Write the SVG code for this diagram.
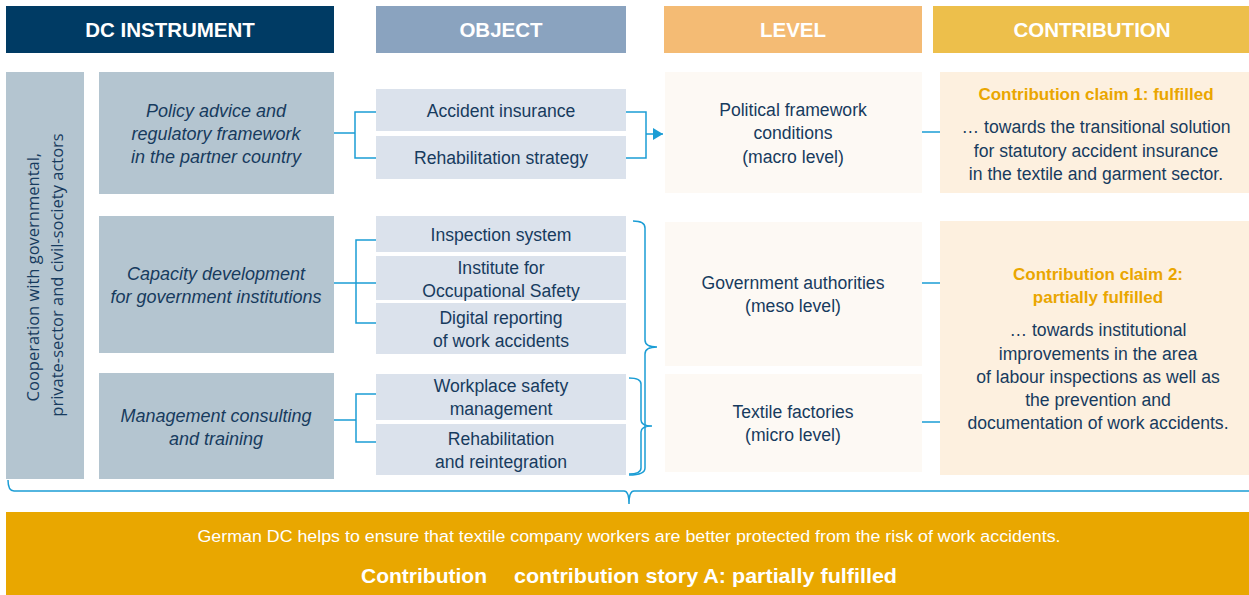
<svg xmlns="http://www.w3.org/2000/svg" width="1249" height="595" viewBox="0 0 1249 595">
<defs>
<style>
.t{font-family:"Liberation Sans",Arial,sans-serif;font-size:17.6px;fill:#173b5e;text-anchor:middle}
.i{font-style:italic;font-size:18px}
.h{font-family:"Liberation Sans",Arial,sans-serif;font-size:20.5px;font-weight:bold;fill:#fff;text-anchor:middle}
.c{font-family:"Liberation Sans",Arial,sans-serif;font-size:17px;font-weight:bold;fill:#eaa600;text-anchor:middle}
.ins{fill:#b4c5d0}
.obj{fill:#dbe2ec}
.lvl{fill:#fdf9f4}
.con{fill:#fdf0df}
.ln{fill:none;stroke:#1b9dd5;stroke-width:1.5}
</style>
<marker id="arr" markerWidth="10" markerHeight="12" refX="10" refY="6" orient="auto" markerUnits="userSpaceOnUse">
<path d="M0,0 L10,6 L0,12 Z" fill="#1b9dd5"/>
</marker>
</defs>
<rect width="1249" height="595" fill="#fff"/>

<g id="headers">
<rect x="6" y="6" width="328" height="47" fill="#003b64"/>
<text class="h" x="170" y="37">DC INSTRUMENT</text>
<rect x="376" y="6" width="250" height="47" fill="#8aa3bf"/>
<text class="h" x="501" y="37">OBJECT</text>
<rect x="664" y="6" width="258" height="47" fill="#f4bb74"/>
<text class="h" x="793" y="37">LEVEL</text>
<rect x="933" y="6" width="316" height="47" fill="#edbf4b"/>
<text class="h" x="1092" y="37">CONTRIBUTION</text>
</g>

<g id="cooperation">
<rect class="ins" x="6" y="72" width="78" height="407"/>
<text transform="translate(45,275) rotate(-90)" style="font-family:'Open Sans','Liberation Sans',sans-serif;font-size:16.5px;fill:#173b5e;text-anchor:middle">
<tspan x="0" y="-6">Cooperation with governmental,</tspan>
<tspan x="0" y="18">private-sector and civil-society actors</tspan>
</text>
</g>

<g id="instr-policy">
<rect class="ins" x="99" y="72" width="235" height="122"/>
<text class="t i" x="216" y="117">Policy advice and</text>
<text class="t i" x="216" y="140">regulatory framework</text>
<text class="t i" x="216" y="163">in the partner country</text>
</g>
<g id="instr-capacity">
<rect class="ins" x="99" y="216" width="235" height="137"/>
<text class="t i" x="216" y="280">Capacity development</text>
<text class="t i" x="216" y="303">for government institutions</text>
</g>
<g id="instr-management">
<rect class="ins" x="99" y="373" width="235" height="106"/>
<text class="t i" x="216" y="422">Management consulting</text>
<text class="t i" x="216" y="445">and training</text>
</g>

<g id="obj-accident">
<rect class="obj" x="376" y="89" width="250" height="42"/>
<text class="t" x="501" y="117">Accident insurance</text>
</g>
<g id="obj-rehabstrategy">
<rect class="obj" x="376" y="136" width="250" height="43"/>
<text class="t" x="501" y="164">Rehabilitation strategy</text>
</g>
<g id="obj-inspection">
<rect class="obj" x="376" y="216" width="250" height="36"/>
<text class="t" x="501" y="241">Inspection system</text>
</g>
<g id="obj-institute">
<rect class="obj" x="376" y="256" width="250" height="44"/>
<text class="t" x="501" y="274">Institute for</text>
<text class="t" x="501" y="297">Occupational Safety</text>
</g>
<g id="obj-digital">
<rect class="obj" x="376" y="303" width="250" height="51"/>
<text class="t" x="501" y="324">Digital reporting</text>
<text class="t" x="501" y="347">of work accidents</text>
</g>
<g id="obj-workplace">
<rect class="obj" x="376" y="374" width="250" height="46"/>
<text class="t" x="501" y="392">Workplace safety</text>
<text class="t" x="501" y="415">management</text>
</g>
<g id="obj-rehab">
<rect class="obj" x="376" y="424" width="250" height="51"/>
<text class="t" x="501" y="445">Rehabilitation</text>
<text class="t" x="501" y="468">and reintegration</text>
</g>

<g id="lvl-macro">
<rect class="lvl" x="665" y="72" width="257" height="121"/>
<text class="t" x="793" y="116">Political framework</text>
<text class="t" x="793" y="139">conditions</text>
<text class="t" x="793" y="163">(macro level)</text>
</g>
<g id="lvl-meso">
<rect class="lvl" x="665" y="222" width="257" height="144"/>
<text class="t" x="793" y="289">Government authorities</text>
<text class="t" x="793" y="312">(meso level)</text>
</g>
<g id="lvl-micro">
<rect class="lvl" x="665" y="374" width="257" height="98"/>
<text class="t" x="793" y="418">Textile factories</text>
<text class="t" x="793" y="441">(micro level)</text>
</g>

<g id="claim1">
<rect class="con" x="940" y="72" width="309" height="121"/>
<text class="c" x="1096" y="100">Contribution claim 1: fulfilled</text>
<text class="t" x="1096" y="133">… towards the transitional solution</text>
<text class="t" x="1096" y="157">for statutory accident insurance</text>
<text class="t" x="1096" y="180">in the textile and garment sector.</text>
</g>
<g id="claim2">
<rect class="con" x="940" y="221" width="309" height="254"/>
<text class="c" x="1098" y="280">Contribution claim 2:</text>
<text class="c" x="1098" y="303">partially fulfilled</text>
<text class="t" x="1098" y="336">… towards institutional</text>
<text class="t" x="1098" y="360">improvements in the area</text>
<text class="t" x="1098" y="383">of labour inspections as well as</text>
<text class="t" x="1098" y="406">the prevention and</text>
<text class="t" x="1098" y="429">documentation of work accidents.</text>
</g>

<g id="connectors">
<path class="ln" d="M334,133 H355 M376,112 H355 V158 H376"/>
<path class="ln" d="M626,112 H646 V158 H626 M646,134 H663" marker-end="url(#arr)"/>
<path class="ln" d="M334,283 H376 M376,240 H356 V323 H376"/>
<path class="ln" d="M334,420 H356 M376,394 H356 V442 H376"/>
<path class="ln" d="M633,221 Q645,221 645,228 V340 Q645,347 657,347 Q645,347 645,354 V468 Q645,475 629,475"/>
<path class="ln" d="M629,378 Q641,378 641,384 V420 Q641,426 652,426 Q641,426 641,432 V468 Q641,474 629,474"/>
<path class="ln" d="M922,132 H940 M922,283 H940 M922,422 H940"/>
<path class="ln" d="M8,480 Q8,491 14,491 H624 Q629,491 629,504 Q629,491 634,491 H1249"/>
</g>

<g id="summary">
<rect x="6" y="512" width="1243" height="83" fill="#e9a700"/>
<text x="629" y="542" textLength="863" lengthAdjust="spacingAndGlyphs" style="font-family:'Liberation Sans',Arial,sans-serif;font-size:16px;fill:#fff;text-anchor:middle">German DC helps to ensure that textile company workers are better protected from the risk of work accidents.</text>
<text x="361" y="583" style="font-family:'Liberation Sans',Arial,sans-serif;font-size:21px;font-weight:bold;fill:#fff">Contribution</text>
<text x="514" y="583" textLength="383" lengthAdjust="spacingAndGlyphs" style="font-family:'Liberation Sans',Arial,sans-serif;font-size:21px;font-weight:bold;fill:#fff">contribution story A: partially fulfilled</text>
</g>
</svg>
